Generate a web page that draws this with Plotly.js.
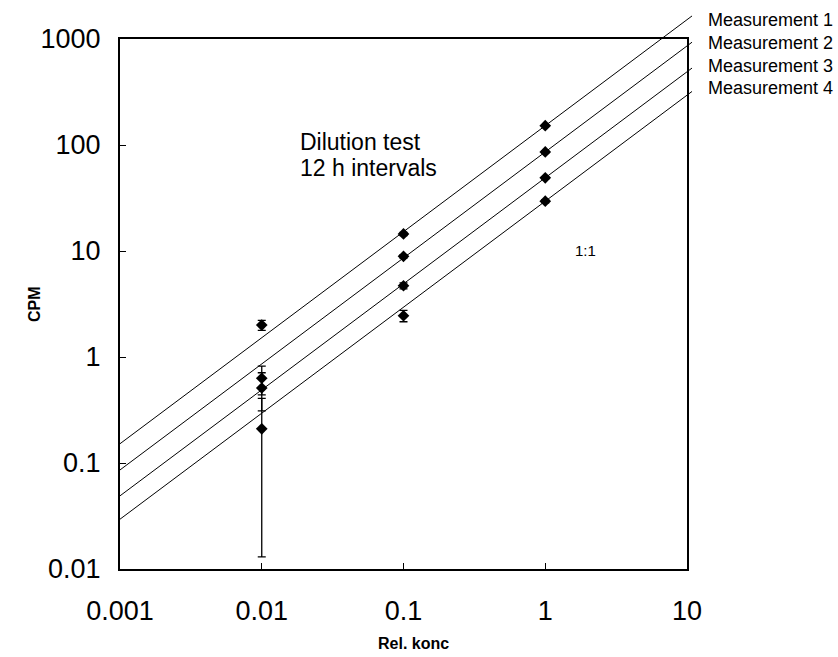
<!DOCTYPE html>
<html>
<head>
<meta charset="utf-8">
<script src="https://cdn.plot.ly/plotly-3.0.1.min.js"></script>
<style>html,body{margin:0;padding:0;background:#fff;}#chart{width:838px;height:657px;}</style>
</head>
<body>
<div id="chart"></div>
<script>
// ---- data ----
const relKonc = [0.01, 0.1, 1];
const seriesNames = ["Measurement 1", "Measurement 2", "Measurement 3", "Measurement 4"];
const cpm1 = [2.0, 14.5, 152];
const cpm2 = [0.63, 8.9, 86];
const cpm3 = [0.51, 4.7, 49];
const cpm4 = [0.21, 2.45, 29.5];
const err1 = [0.22, 0.5, 3];
const err2 = [0.19, 0.35, 2];
const err3 = [0.2, 0.3, 1.2];
const err4 = [0.197, 0.3, 1];
// 1:1 reference lines: x span and y at both ends
const lineX = [0.001, 10.85];
const lineY1 = [0.152, 1650];
const lineY2 = [0.086, 933];
const lineY3 = [0.049, 532];
const lineY4 = [0.0295, 320];
const xTickVals = [0.001, 0.01, 0.1, 1, 10];
const xTickText = ["0.001", "0.01", "0.1", "1", "10"];
const yTickVals = [0.01, 0.1, 1, 10, 100, 1000];
const yTickText = ["0.01", "0.1", "1", "10", "100", "1000"];

// ---- geometry (pixels) ----
const W = 838, H = 657;
const plotL = 120, plotR = 687, plotT = 39, plotB = 569;
const extR = 700, extT = 8;          // extended area so reference lines can run past the frame
const paperW = extR - plotL, paperH = plotB - extT;
const xDom = (plotR - plotL) / paperW;
const yDom = (plotB - plotT) / paperH;
const xRange = [-3, 1], yRange = [-2, 3];
const xRange2 = [xRange[0], xRange[0] + (xRange[1] - xRange[0]) / xDom];
const yRange2 = [yRange[0], yRange[0] + (yRange[1] - yRange[0]) / yDom];
const px = x => (x - plotL) / paperW;
const py = y => (plotB - y) / paperH;

const FONT = "Liberation Sans, Arial, Helvetica, sans-serif";
const cpms = [cpm1, cpm2, cpm3, cpm4];
const errs = [err1, err2, err3, err4];
const lines = [lineY1, lineY2, lineY3, lineY4];

const traces = [];
lines.forEach((ly, i) => {
  traces.push({
    x: lineX, y: ly, xaxis: "x2", yaxis: "y2", mode: "lines",
    line: {color: "#000", width: 1}, hoverinfo: "skip", showlegend: false, name: seriesNames[i]
  });
});
cpms.forEach((c, i) => {
  traces.push({
    x: relKonc, y: c, mode: "markers", name: seriesNames[i], showlegend: false,
    marker: {symbol: "diamond", size: 9, color: "#000"},
    error_y: {type: "data", array: errs[i], visible: true, color: "#000", thickness: 1.3, width: 4},
    cliponaxis: false
  });
});

const annotations = [
  {text: "Dilution test", x: px(298), y: py(142), xanchor: "left", yanchor: "middle",
   font: {size: 23, color: "#000", family: FONT}},
  {text: "12 h intervals", x: px(298), y: py(168), xanchor: "left", yanchor: "middle",
   font: {size: 23, color: "#000", family: FONT}},
  {text: "1:1", x: px(573), y: py(250), xanchor: "left", yanchor: "middle", font: {size: 15, color: "#000", family: FONT}},
  {text: "<b>Rel. konc</b>", x: px(413), y: py(643), xanchor: "center", yanchor: "middle", font: {size: 16, color: "#000", family: FONT}},
  {text: "<b>CPM</b>", x: px(34), y: py(304), xanchor: "center", yanchor: "middle", textangle: -90, font: {size: 16, color: "#000", family: FONT}}
];
const labY = [20, 43, 66, 88];
seriesNames.forEach((n, i) => annotations.push({
  text: n, x: px(706), y: py(labY[i]), xanchor: "left", yanchor: "middle",
  font: {size: 18, color: "#000", family: FONT}
}));
annotations.forEach(a => { a.xref = "paper"; a.yref = "paper"; a.showarrow = false; });

const axisCommon = {
  type: "log", showgrid: false, zeroline: false, showline: true, mirror: true,
  linecolor: "#000", linewidth: 2, ticks: "inside", ticklen: 6, tickwidth: 1, tickcolor: "#000",
  tickfont: {size: 27, color: "#000", family: FONT}
};

const layout = {
  width: W, height: H,
  margin: {l: plotL, r: W - extR, t: extT, b: H - plotB, pad: 0},
  paper_bgcolor: "#fff", plot_bgcolor: "rgba(0,0,0,0)",
  font: {family: FONT, color: "#000"},
  showlegend: false,
  xaxis: Object.assign({}, axisCommon, {
    domain: [0, xDom], range: xRange, tickvals: xTickVals, ticktext: xTickText,
    anchor: "y", ticklabelstandoff: 17
  }),
  yaxis: Object.assign({}, axisCommon, {
    domain: [0, yDom], range: yRange, tickvals: yTickVals, ticktext: yTickText,
    anchor: "x", ticklabelstandoff: 12
  }),
  xaxis2: {type: "log", domain: [0, 1], range: xRange2, anchor: "y2", visible: false, showgrid: false, zeroline: false},
  yaxis2: {type: "log", domain: [0, 1], range: yRange2, anchor: "x2", visible: false, showgrid: false, zeroline: false},
  annotations: annotations
};

Plotly.newPlot("chart", traces, layout, {staticPlot: true, displayModeBar: false});
</script>
</body>
</html>
